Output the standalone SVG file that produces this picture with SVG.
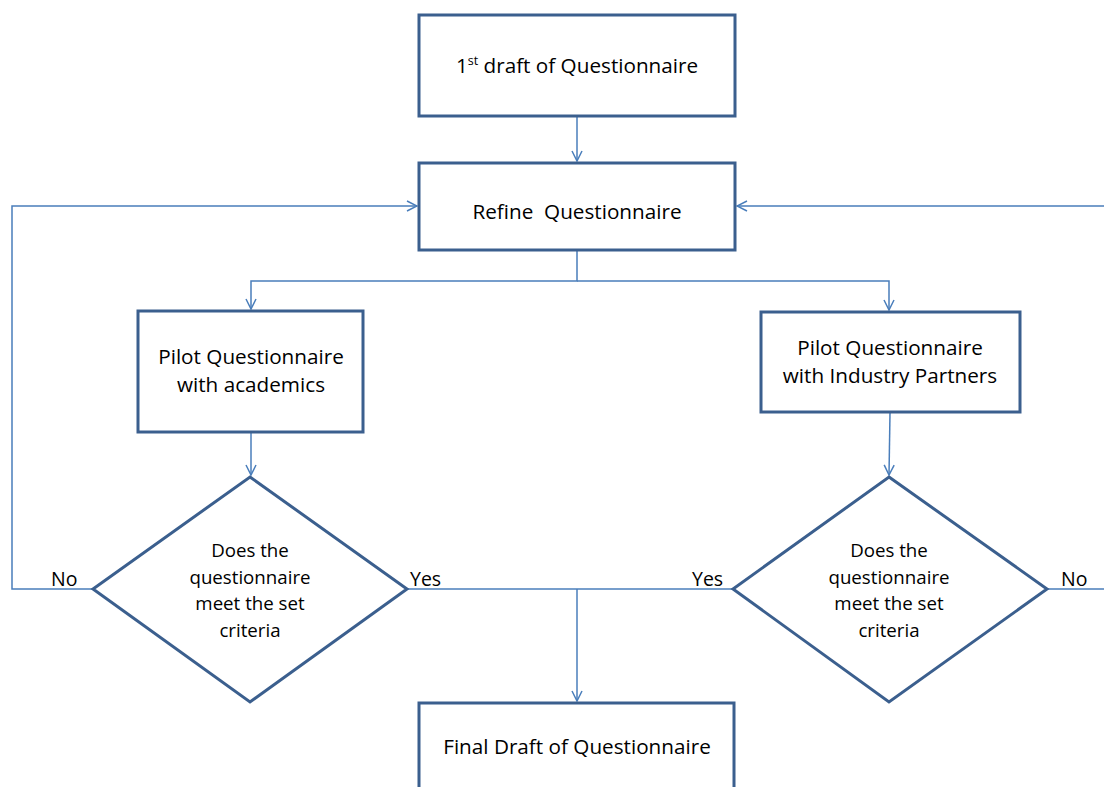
<svg xmlns="http://www.w3.org/2000/svg" width="1104" height="787" viewBox="0 0 1104 787">
  <style>
    .box { fill: #ffffff; stroke: #3b5f8e; stroke-width: 3; }
    .conn { fill: none; stroke: #4a7ebb; stroke-width: 1.5; }
    .t { font-family: "Open Sans", "Liberation Sans", sans-serif; font-size: 20.7px; fill: #000000; text-anchor: middle; }
    .d { font-family: "Open Sans", "Liberation Sans", sans-serif; font-size: 18.7px; fill: #000000; text-anchor: middle; }
    .lbl { font-family: "Open Sans", "Liberation Sans", sans-serif; font-size: 19.5px; fill: #000000; }
  </style>
  <defs>
    <marker id="arrow" viewBox="0 0 12 12" refX="11" refY="6" markerWidth="12" markerHeight="12" markerUnits="userSpaceOnUse" orient="auto">
      <path d="M1,1 L11,6 L1,11" fill="none" stroke="#4a7ebb" stroke-width="1.5"/>
    </marker>
  </defs>
  <rect width="1104" height="787" fill="#ffffff"/>

  <g id="connectors">
    <path class="conn" d="M577,117 V161" marker-end="url(#arrow)"/>
    <path class="conn" d="M577,251 V281 H251 V309" marker-end="url(#arrow)"/>
    <path class="conn" d="M577,281 H889 V310" marker-end="url(#arrow)"/>
    <path class="conn" d="M251,433 V475" marker-end="url(#arrow)"/>
    <path class="conn" d="M890,413 L889,475" marker-end="url(#arrow)"/>
    <path class="conn" d="M93,589 H12 V206 H417" marker-end="url(#arrow)"/>
    <path class="conn" d="M1047,589 H1106 V206 H737" marker-end="url(#arrow)"/>
    <path class="conn" d="M407,589 H733"/>
    <path class="conn" d="M577,589 V701" marker-end="url(#arrow)"/>
  </g>

  <g id="first-draft">
    <rect class="box" x="419" y="15" width="316" height="101"/>
    <text class="t" x="577" y="73">1<tspan font-size="12.5" dy="-8">st</tspan><tspan dy="8"> draft of Questionnaire</tspan></text>
  </g>

  <g id="refine">
    <rect class="box" x="419" y="163" width="316" height="87"/>
    <text class="t" x="577" y="219" xml:space="preserve">Refine  Questionnaire</text>
  </g>

  <g id="pilot-academics">
    <rect class="box" x="138" y="311" width="225" height="121"/>
    <text class="t" x="251" y="364">Pilot Questionnaire</text>
    <text class="t" x="251" y="392">with academics</text>
  </g>

  <g id="pilot-industry">
    <rect class="box" x="761" y="312" width="259" height="100"/>
    <text class="t" x="890" y="355">Pilot Questionnaire</text>
    <text class="t" x="890" y="383">with Industry Partners</text>
  </g>

  <g id="decision-academics">
    <polygon class="box" points="250,477 407,589 250,702 93,589"/>
    <text class="d" x="250" y="557">Does the</text>
    <text class="d" x="250" y="584">questionnaire</text>
    <text class="d" x="250" y="610">meet the set</text>
    <text class="d" x="250" y="637">criteria</text>
  </g>

  <g id="decision-industry">
    <polygon class="box" points="889,477 1047,589 889,702 733,589"/>
    <text class="d" x="889" y="557">Does the</text>
    <text class="d" x="889" y="584">questionnaire</text>
    <text class="d" x="889" y="610">meet the set</text>
    <text class="d" x="889" y="637">criteria</text>
  </g>

  <g id="final-draft">
    <rect class="box" x="419" y="703" width="315" height="100"/>
    <text class="t" x="577" y="754">Final Draft of Questionnaire</text>
  </g>

  <g id="labels">
    <text class="lbl" x="51" y="586">No</text>
    <text class="lbl" x="410" y="586">Yes</text>
    <text class="lbl" x="692" y="586">Yes</text>
    <text class="lbl" x="1061" y="586">No</text>
  </g>
</svg>
